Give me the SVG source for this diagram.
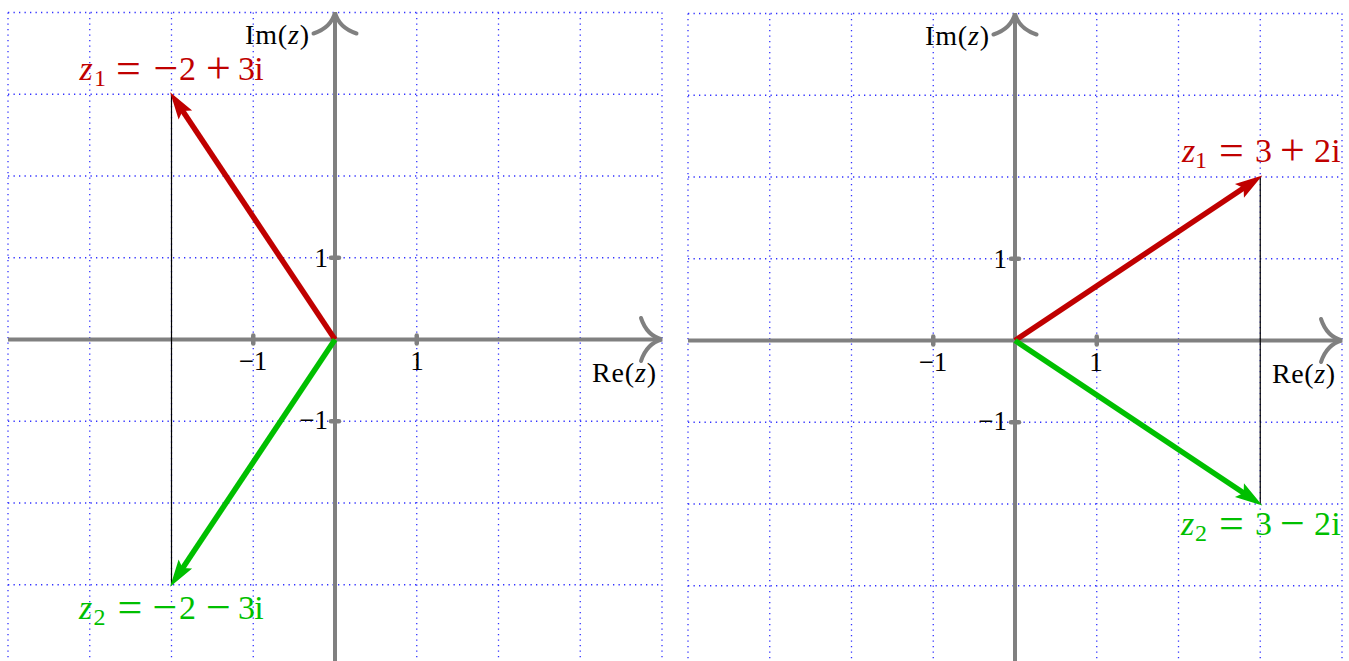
<svg xmlns="http://www.w3.org/2000/svg" width="1349" height="661" viewBox="0 0 1349 661">
<style>
.grid line{stroke:#3030ff;stroke-width:1.3;stroke-dasharray:1.3 4.2;fill:none}
.axis{stroke:#808080;stroke-width:4;fill:none}
.ahead{stroke:#808080;stroke-width:4;fill:none;stroke-linecap:round}
.tick{stroke:#808080;stroke-width:4.5;stroke-linecap:round}
.proj{stroke:#000;stroke-width:1.2}
.vr{stroke:#c00000;stroke-width:5.5;fill:none}
.vg{stroke:#00bf00;stroke-width:5.5;fill:none}
.al,.tl,.zl{font-family:"Liberation Serif","Times New Roman",serif}
.al{font-size:28px;fill:#000}
.tl{font-size:27px;fill:#000}
.zl{font-size:34px;text-anchor:middle}
.red{fill:#c00000}
.grn{fill:#00bf00}
.it{font-style:italic}
.sub{font-size:24px}
.op{font-size:44px}
</style>
<defs>
<marker id="ar" markerUnits="userSpaceOnUse" markerWidth="30" markerHeight="20" viewBox="-12 -8 24 16" refX="0" refY="0" orient="auto" overflow="visible">
<path d="M-12,-6.5 L10,0 L-12,6.5 L-8,0 z" fill="#c00000"/>
</marker>
<marker id="ag" markerUnits="userSpaceOnUse" markerWidth="30" markerHeight="20" viewBox="-12 -8 24 16" refX="0" refY="0" orient="auto" overflow="visible">
<path d="M-12,-6.5 L10,0 L-12,6.5 L-8,0 z" fill="#00bf00"/>
</marker>
</defs>
<rect width="1349" height="661" fill="#fff"/>

<g id="grid-left" class="grid">
<line x1="8" y1="12.5" x2="8" y2="661"/>
<line x1="89.75" y1="12.5" x2="89.75" y2="661"/>
<line x1="171.5" y1="12.5" x2="171.5" y2="661"/>
<line x1="253.25" y1="12.5" x2="253.25" y2="661"/>
<line x1="335" y1="12.5" x2="335" y2="661"/>
<line x1="416.75" y1="12.5" x2="416.75" y2="661"/>
<line x1="498.5" y1="12.5" x2="498.5" y2="661"/>
<line x1="580.25" y1="12.5" x2="580.25" y2="661"/>
<line x1="662" y1="12.5" x2="662" y2="661"/>
<line x1="8" y1="12.5" x2="662" y2="12.5"/>
<line x1="8" y1="94.25" x2="662" y2="94.25"/>
<line x1="8" y1="176" x2="662" y2="176"/>
<line x1="8" y1="257.75" x2="662" y2="257.75"/>
<line x1="8" y1="339.5" x2="662" y2="339.5"/>
<line x1="8" y1="421.25" x2="662" y2="421.25"/>
<line x1="8" y1="503" x2="662" y2="503"/>
<line x1="8" y1="584.75" x2="662" y2="584.75"/>
</g>

<g id="grid-right" class="grid">
<line x1="688" y1="13.5" x2="688" y2="661"/>
<line x1="769.75" y1="13.5" x2="769.75" y2="661"/>
<line x1="851.5" y1="13.5" x2="851.5" y2="661"/>
<line x1="933.25" y1="13.5" x2="933.25" y2="661"/>
<line x1="1015" y1="13.5" x2="1015" y2="661"/>
<line x1="1096.75" y1="13.5" x2="1096.75" y2="661"/>
<line x1="1178.5" y1="13.5" x2="1178.5" y2="661"/>
<line x1="1260.25" y1="13.5" x2="1260.25" y2="661"/>
<line x1="1342" y1="13.5" x2="1342" y2="661"/>
<line x1="688" y1="13.5" x2="1342" y2="13.5"/>
<line x1="688" y1="95.25" x2="1342" y2="95.25"/>
<line x1="688" y1="177" x2="1342" y2="177"/>
<line x1="688" y1="258.75" x2="1342" y2="258.75"/>
<line x1="688" y1="340.5" x2="1342" y2="340.5"/>
<line x1="688" y1="422.25" x2="1342" y2="422.25"/>
<line x1="688" y1="504" x2="1342" y2="504"/>
<line x1="688" y1="585.75" x2="1342" y2="585.75"/>
</g>

<g id="axes-left">
<line class="axis" x1="8" y1="339.5" x2="659" y2="339.5"/>
<path class="ahead" d="M641,318 C645,330 652,337 662,339.5 C652,342 645,349 641,361"/>
<line class="axis" x1="335" y1="661" x2="335" y2="15.5"/>
<path class="ahead" d="M313.5,33.5 C325.5,29.5 332.5,22.5 335,12.5 C337.5,22.5 344.5,29.5 356.5,33.5"/>
<line class="tick" x1="253.25" y1="335.5" x2="253.25" y2="343.5"/>
<line class="tick" x1="416.75" y1="335.5" x2="416.75" y2="343.5"/>
<line class="tick" x1="331" y1="257.75" x2="339" y2="257.75"/>
<line class="tick" x1="331" y1="421.25" x2="339" y2="421.25"/>
<text class="al" x="245" y="44" textLength="64" lengthAdjust="spacing">Im(<tspan class="it">z</tspan>)</text>
<text class="al" x="592" y="382" textLength="64" lengthAdjust="spacing">Re(<tspan class="it">z</tspan>)</text>
<text class="tl" x="253" y="370" text-anchor="middle">−1</text>
<text class="tl" x="417" y="370" text-anchor="middle">1</text>
<text class="tl" x="328" y="267" text-anchor="end">1</text>
<text class="tl" x="328" y="429" text-anchor="end">−1</text>
</g>

<g id="axes-right">
<line class="axis" x1="688" y1="340.5" x2="1339" y2="340.5"/>
<path class="ahead" d="M1321,319 C1325,331 1332,338 1342,340.5 C1332,343 1325,350 1321,362"/>
<line class="axis" x1="1015" y1="661" x2="1015" y2="16.5"/>
<path class="ahead" d="M993.5,34.5 C1005.5,30.5 1012.5,23.5 1015,13.5 C1017.5,23.5 1024.5,30.5 1036.5,34.5"/>
<line class="tick" x1="933.25" y1="336.5" x2="933.25" y2="344.5"/>
<line class="tick" x1="1096.75" y1="336.5" x2="1096.75" y2="344.5"/>
<line class="tick" x1="1011" y1="258.75" x2="1019" y2="258.75"/>
<line class="tick" x1="1011" y1="422.25" x2="1019" y2="422.25"/>
<text class="al" x="925" y="45" textLength="64" lengthAdjust="spacing">Im(<tspan class="it">z</tspan>)</text>
<text class="al" x="1272" y="383" textLength="63" lengthAdjust="spacing">Re(<tspan class="it">z</tspan>)</text>
<text class="tl" x="933" y="371" text-anchor="middle">−1</text>
<text class="tl" x="1096" y="371" text-anchor="middle">1</text>
<text class="tl" x="1007" y="268" text-anchor="end">1</text>
<text class="tl" x="1007" y="430" text-anchor="end">−1</text>
</g>

<g id="connectors">
<line class="proj" x1="171.5" y1="94.25" x2="171.5" y2="584.75"/>
<line class="proj" x1="1260.25" y1="177" x2="1260.25" y2="504"/>
<line class="vr" x1="335" y1="339.5" x2="177.05" y2="102.57" marker-end="url(#ar)"/>
<line class="vg" x1="335" y1="339.5" x2="177.05" y2="576.43" marker-end="url(#ag)"/>
<line class="vr" x1="1015" y1="340.5" x2="1251.93" y2="182.55" marker-end="url(#ar)"/>
<line class="vg" x1="1015" y1="340.5" x2="1251.93" y2="498.45" marker-end="url(#ag)"/>
</g>

<g id="z1-left">
<text class="zl red" y="80"><tspan x="86" class="it">z</tspan><tspan x="100" dy="6" class="sub">1</tspan><tspan x="128.5" dy="-3.5" class="op">=</tspan><tspan x="166" class="op">−</tspan><tspan x="187.5" dy="-2.5">2</tspan><tspan x="218.5" dy="2.5" class="op">+</tspan><tspan x="246.5" dy="-2.5">3</tspan><tspan x="259">i</tspan></text>
</g>
<g id="z2-left">
<text class="zl grn" y="619"><tspan x="85.5" class="it">z</tspan><tspan x="99.5" dy="6" class="sub">2</tspan><tspan x="130" dy="-3.5" class="op">=</tspan><tspan x="165" class="op">−</tspan><tspan x="187.5" dy="-2.5">2</tspan><tspan x="218.5" dy="2.5" class="op">−</tspan><tspan x="246.5" dy="-2.5">3</tspan><tspan x="259">i</tspan></text>
</g>
<g id="z1-right">
<text class="zl red" y="162"><tspan x="1188.5" class="it">z</tspan><tspan x="1201" dy="6" class="sub">1</tspan><tspan x="1231.5" dy="-3.5" class="op">=</tspan><tspan x="1263.5" dy="-2.5">3</tspan><tspan x="1292.5" dy="2.5" class="op">+</tspan><tspan x="1322.5" dy="-2.5">2</tspan><tspan x="1336">i</tspan></text>
</g>
<g id="z2-right">
<text class="zl grn" y="535"><tspan x="1187.5" class="it">z</tspan><tspan x="1201" dy="6" class="sub">2</tspan><tspan x="1231.5" dy="-3.5" class="op">=</tspan><tspan x="1263.5" dy="-2.5">3</tspan><tspan x="1292.5" dy="2.5" class="op">−</tspan><tspan x="1322.5" dy="-2.5">2</tspan><tspan x="1336">i</tspan></text>
</g>
</svg>
